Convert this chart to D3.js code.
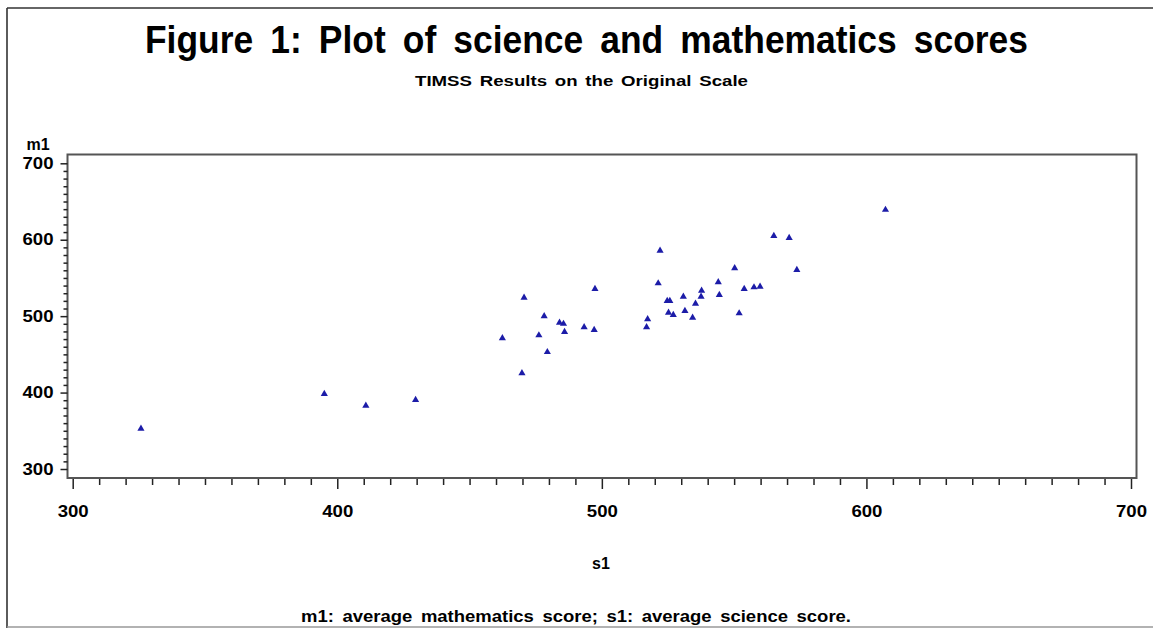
<!DOCTYPE html>
<html>
<head>
<meta charset="utf-8">
<script src="https://cdn.jsdelivr.net/npm/d3@7"></script>
<style>
  html, body { margin: 0; padding: 0; background: #fff; }
  svg { display: block; }
  text { font-family: "Liberation Sans", Arial, sans-serif; font-weight: bold; fill: #000; }
</style>
</head>
<body>
<svg id="chart" width="1153" height="628"></svg>
<script>
// ---- data ----
const scienceScores = [
  325.8, 395.1, 410.8, 429.6,
  470.6, 497.4, 478.2, 484.0, 485.5, 485.9, 493.3, 497.1, 462.4, 476.2, 479.4, 469.8,
  522.0, 521.3, 550.2, 544.0, 565.0, 570.8, 573.7, 537.7, 530.8, 537.5, 544.4,
  524.7, 525.7, 535.4, 525.2, 527.0, 531.4, 534.3, 551.9, 553.8, 557.5, 559.8,
  517.3, 516.9, 607.2
];
const mathScores = [
  352.7, 398.2, 382.9, 390.3,
  524.2, 535.6, 499.9, 491.5, 490.0, 479.3, 485.5, 481.9, 471.1, 475.0, 453.1, 425.3,
  585.7, 543.0, 562.7, 544.4, 605.0, 602.4, 560.5, 533.4, 525.5, 525.5, 527.7,
  519.9, 519.9, 516.4, 504.6, 501.6, 506.8, 498.0, 503.8, 535.6, 537.8, 538.6,
  496.0, 485.5, 639.2
];
const xTickValues = [300, 400, 500, 600, 700];
const yTickValues = [300, 400, 500, 600, 700];
const titleText = "Figure 1: Plot of science and mathematics scores";
const subtitleText = "TIMSS Results on the Original Scale";
const xLabel = "s1";
const yLabel = "m1";
const footnoteText = "m1: average mathematics score; s1: average science score.";

// ---- drawing ----
const svg = d3.select("#chart");
const points = scienceScores.map((s, i) => ({ s: s, m: mathScores[i] }));

const x = d3.scaleLinear().domain([300, 700]).range([72.7, 1131]);
const y = d3.scaleLinear().domain([300, 700]).range([469, 163.3]);

// page border lines
svg.append("line").attr("x1", 7).attr("x2", 1153).attr("y1", 8).attr("y2", 8)
  .attr("stroke", "#333").attr("stroke-width", 1.6);
svg.append("line").attr("x1", 7).attr("x2", 7).attr("y1", 8).attr("y2", 628)
  .attr("stroke", "#333").attr("stroke-width", 1.6);
svg.append("line").attr("x1", 7).attr("x2", 1153).attr("y1", 627).attr("y2", 627)
  .attr("stroke", "#999").attr("stroke-width", 1.5);

// titles
svg.append("text").attr("x", 586.5).attr("y", 53).attr("text-anchor", "middle")
  .attr("font-size", 39).attr("word-spacing", 8)
  .attr("textLength", 883).attr("lengthAdjust", "spacingAndGlyphs")
  .text(titleText);
svg.append("text").attr("x", 581.5).attr("y", 86).attr("text-anchor", "middle")
  .attr("font-size", 14.5).attr("word-spacing", 2)
  .attr("textLength", 333).attr("lengthAdjust", "spacingAndGlyphs")
  .text(subtitleText);

// frame
svg.append("rect").attr("x", 67.5).attr("y", 154.5).attr("width", 1069).attr("height", 323.5)
  .attr("fill", "none").attr("stroke", "#555").attr("stroke-width", 2);

// minor ticks
const xMinor = d3.range(300, 701, 10).filter(v => v % 100 !== 0);
const yMinor = d3.range(300, 701, 10).filter(v => v % 100 !== 0);

const xMinorAxis = svg.append("g").attr("transform", "translate(0,479)")
  .call(d3.axisBottom(x).tickValues(xMinor).tickSize(6).tickFormat(""));
const xAxis = svg.append("g").attr("transform", "translate(0,479)")
  .call(d3.axisBottom(x).tickValues(xTickValues).tickSize(10).tickPadding(17).tickFormat(d3.format("d")));
const yMinorAxis = svg.append("g").attr("transform", "translate(67.5,0)")
  .call(d3.axisLeft(y).tickValues(yMinor).tickSize(4).tickFormat(""));
const yAxis = svg.append("g").attr("transform", "translate(67.5,0)")
  .call(d3.axisLeft(y).tickValues(yTickValues).tickSize(7).tickPadding(7).tickFormat(d3.format("d")));

[xMinorAxis, xAxis, yMinorAxis, yAxis].forEach(g => {
  g.select(".domain").remove();
  g.selectAll(".tick line").attr("stroke", "#222").attr("stroke-width", 1.5);
});
[xAxis, yAxis].forEach(g => {
  g.selectAll(".tick text")
    .attr("font-family", "'Liberation Sans', Arial, sans-serif")
    .attr("font-weight", "bold")
    .attr("font-size", 16)
    .attr("textLength", 31)
    .attr("lengthAdjust", "spacingAndGlyphs")
    .attr("fill", "#000");
});

// axis labels
svg.append("text").attr("x", 601).attr("y", 569).attr("text-anchor", "middle")
  .attr("font-size", 16).text(xLabel);
svg.append("text").attr("x", 38).attr("y", 150).attr("text-anchor", "middle")
  .attr("font-size", 16).text(yLabel);

// footnote
svg.append("text").attr("x", 576).attr("y", 622).attr("text-anchor", "middle")
  .attr("font-size", 16).attr("word-spacing", 3)
  .attr("textLength", 550).attr("lengthAdjust", "spacingAndGlyphs")
  .text(footnoteText);

// points
svg.append("g").selectAll("path").data(points).join("path")
  .attr("transform", d => `translate(${x(d.s)},${y(d.m)})`)
  .attr("d", d3.symbol().type(d3.symbolTriangle).size(22))
  .attr("fill", "#1c1ca8");
</script>
</body>
</html>
